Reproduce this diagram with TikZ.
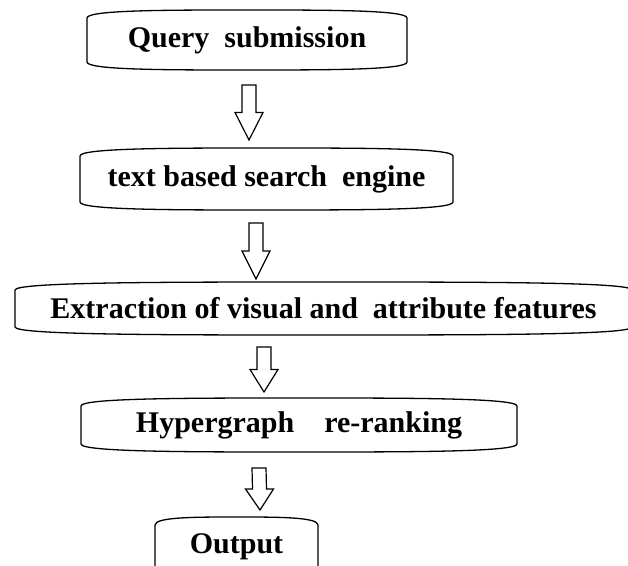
\documentclass[tikz,border=0pt]{standalone}
\usepackage{fontspec}
\setmainfont{Liberation Serif}
\usepackage{tikz}
\usetikzlibrary{calc}
\tikzset{
    stagebox/.style={inner sep=0pt,outer sep=0pt,font=\fontsize{30}{36}\selectfont\bfseries},
    boxline/.style={line width=1.3pt},
    arrowline/.style={line width=1.2pt,line join=miter}
}
% box with flat sides and slightly bowed top and bottom
\newcommand{\bowbox}[1]{%
  \draw[boxline] ($(#1.south west)+(0,8)$) -- ($(#1.north west)+(0,-8)$)
    .. controls (#1.north west) and ($(#1.north west)!0.5!(#1.north)$) .. (#1.north)
    .. controls ($(#1.north)!0.5!(#1.north east)$) and (#1.north east) .. ($(#1.north east)+(0,-8)$)
    -- ($(#1.south east)+(0,8)$)
    .. controls (#1.south east) and ($(#1.south east)!0.5!(#1.south)$) .. (#1.south)
    .. controls ($(#1.south)!0.5!(#1.south west)$) and (#1.south west) .. cycle;}
% hollow block arrow from #1 down to #2
\newcommand{\blockarrow}[2]{%
  \coordinate (#1m) at ($(#1)!0.5!(#2)$);
  \draw[arrowline] ($(#1)+(-7,0)$) -- ($(#1m)+(-7,0)$) -- ($(#1m)+(-14,0)$) -- (#2)
    -- ($(#1m)+(14,0)$) -- ($(#1m)+(7,0)$) -- ($(#1)+(7,0)$) -- cycle;}

\begin{document}
\begin{tikzpicture}[x=1pt,y=1pt]
    \useasboundingbox (0,0) rectangle (628,565);
    \clip (0,0) rectangle (628,565);

    \node[stagebox,minimum width=320,minimum height=60] (query) at (247,525) {Query\ \ submission};
    \node[stagebox,minimum width=373,minimum height=62] (engine) at (266.5,386) {text based search\ \ engine};
    \node[stagebox,minimum width=617,minimum height=53] (extract) at (323.5,256.5) {Extraction of visual and\ \ attribute features};
    \node[stagebox,minimum width=436,minimum height=54] (rerank) at (299,140) {Hypergraph\ \ \ \ re-ranking};
    \node[stagebox,minimum width=163,minimum height=60] (output) at (236.5,18) {Output};

    \bowbox{query}
    \bowbox{engine}
    \bowbox{extract}
    \bowbox{rerank}
    \bowbox{output}

    \coordinate (qa) at ($(query.south)+(2,-15)$);
    \coordinate (qb) at ($(engine.north)+(-17.5,8)$);
    \coordinate (ea) at ($(engine.south)+(-10.5,-13)$);
    \coordinate (eb) at ($(extract.north)+(-67.5,3)$);
    \coordinate (xa) at ($(extract.south)+(-59.5,-12)$);
    \coordinate (xb) at ($(rerank.north)+(-35,6)$);
    \coordinate (ra) at ($(rerank.south)+(-40,-16)$);
    \coordinate (rb) at ($(output.north)+(23.5,7)$);

    \blockarrow{qa}{qb}
    \blockarrow{ea}{eb}
    \blockarrow{xa}{xb}
    \blockarrow{ra}{rb}
\end{tikzpicture}
\end{document}
